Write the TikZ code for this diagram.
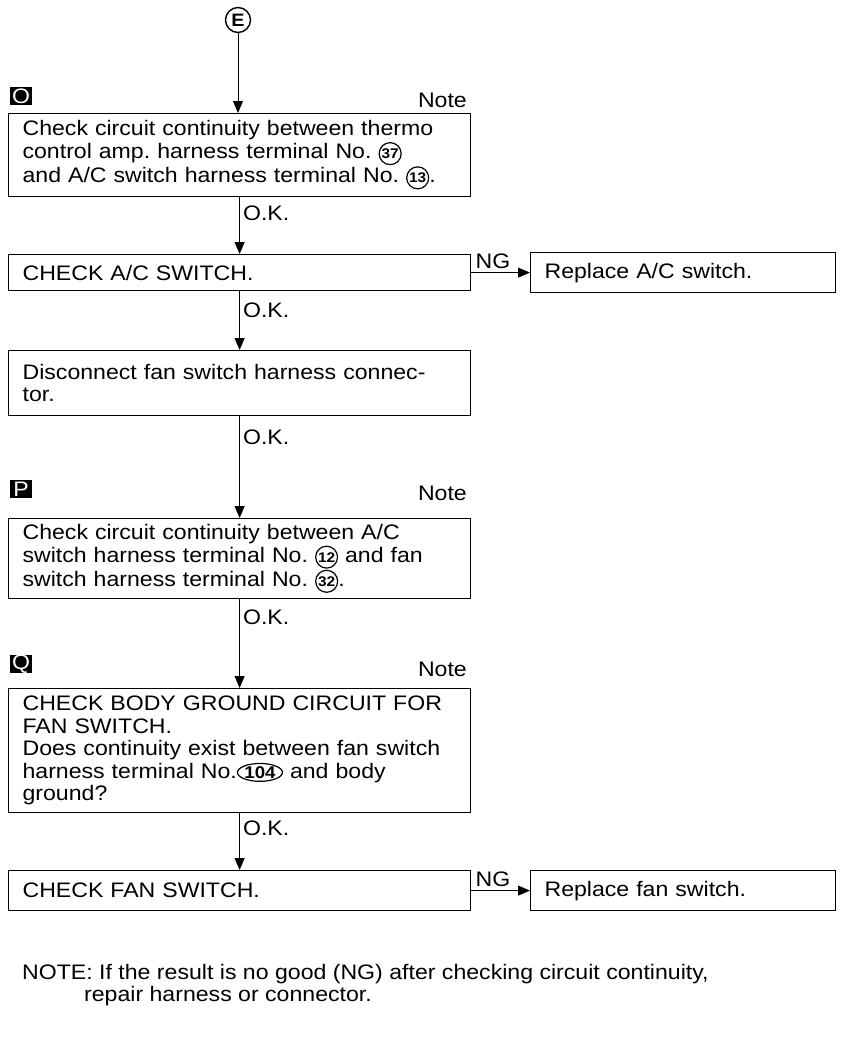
\documentclass[tikz,border=0pt]{standalone}
\usepackage{fontspec}
\setmainfont{Liberation Sans}[FakeStretch=1.1]
\usetikzlibrary{positioning,arrows.meta,shapes.geometric}

% circled terminal numbers inside the box texts
\tikzset{termmark/.style={draw,line width=1.2pt,text width={},align=center,anchor=center,
    minimum width=0pt,minimum height=0pt}}
\newcommand{\termno}[1]{\tikz[baseline=(t.base)]\node[termmark,circle,inner sep=0.8pt,font=\fontsize{14}{14}\selectfont\bfseries] (t) {#1};}
\newcommand{\termwide}[1]{\tikz[baseline=(t.base)]\node[termmark,ellipse,inner sep=0.3pt,font=\fontsize{17}{17}\selectfont\bfseries] (t) {#1};}

\begin{document}
\frenchspacing
\begin{tikzpicture}[x=1pt,y=-1pt,
    font=\fontsize{21}{22.5}\selectfont,
    box/.style={draw,line width=1.2pt,anchor=north west,align=left,inner xsep=14pt,inner ysep=0pt,
      minimum width=462pt,text width=434pt},
    sidebox/.style={box,minimum width=305pt,text width=277pt},
    flow/.style={line width=1pt,-{Triangle[length=12pt,width=10pt]}},
    marker/.style={fill=black,text=white,minimum width=22pt,minimum height=18pt,inner sep=0pt},
    lbl/.style={inner sep=3pt}]
        \useasboundingbox (0,0) rectangle (844,1057);

        \node [circle,draw,line width=1.4pt,minimum size=25pt,inner sep=0pt,font=\fontsize{18}{18}\selectfont\bfseries] at (238,20) (e){E};

        % O: thermo amp to A/C switch
        \node [marker] at (21,96) (mo){O};
        \node [anchor=south east,lbl] at (470,111) (no){Note};
        \node [box,minimum height=83pt] at (8,113) (cont1){Check circuit continuity between thermo\\control amp. harness terminal No. \termno{37}\\and A/C switch harness terminal No. \termno{13}.};

        \node [box,minimum height=36pt] at (8,254) (acsw){CHECK A/C SWITCH.};
        \node [sidebox,minimum height=40pt] at (530,252) (repac){Replace A/C switch.};

        \node [box,minimum height=65pt] at (8,350) (disc){Disconnect fan switch harness connec-\\tor.};

        % P: A/C switch to fan switch
        \node [marker] at (21,489) (mp){P};
        \node [anchor=south east,lbl] at (470,504) (np){Note};
        \node [box,minimum height=80pt] at (8,518) (cont2){Check circuit continuity between A/C\\switch harness terminal No. \termno{12} and fan\\switch harness terminal No. \termno{32}.};

        % Q: body ground
        \node [marker] at (21,664) (mq){Q};
        \node [anchor=south east,lbl] at (470,680) (nq){Note};
        \node [box,minimum height=124pt] at (8,688) (gnd){CHECK BODY GROUND CIRCUIT FOR\\FAN SWITCH.\\Does continuity exist between fan switch\\harness terminal No.\termwide{104} and body\\ground?};

        \node [box,minimum height=40pt] at (8,870) (fansw){CHECK FAN SWITCH.};
        \node [sidebox,minimum height=40pt] at (530,870) (repfan){Replace fan switch.};

        \draw [flow] (e) -- (e |- cont1.north);
        \draw [flow] (cont1) -- node[right,pos=0.28,lbl]{O.K.} (acsw);
        \draw [flow] (acsw) -- node[above,pos=0.37,lbl]{NG} (repac);
        \draw [flow] (acsw) -- node[right,pos=0.33,lbl]{O.K.} (disc);
        \draw [flow] (disc) -- node[right,pos=0.21,lbl]{O.K.} (cont2);
        \draw [flow] (cont2) -- node[right,pos=0.2,lbl]{O.K.} (gnd);
        \draw [flow] (gnd) -- node[right,pos=0.26,lbl]{O.K.} (fansw);
        \draw [flow] (fansw) -- node[above,pos=0.37,lbl]{NG} (repfan);

        \node [anchor=north west,align=left,inner sep=0pt] at (22,964) (note){NOTE: If the result is no good (NG) after checking circuit continuity,\\\hspace*{62pt}repair harness or connector.};
      \end{tikzpicture}
\end{document}
